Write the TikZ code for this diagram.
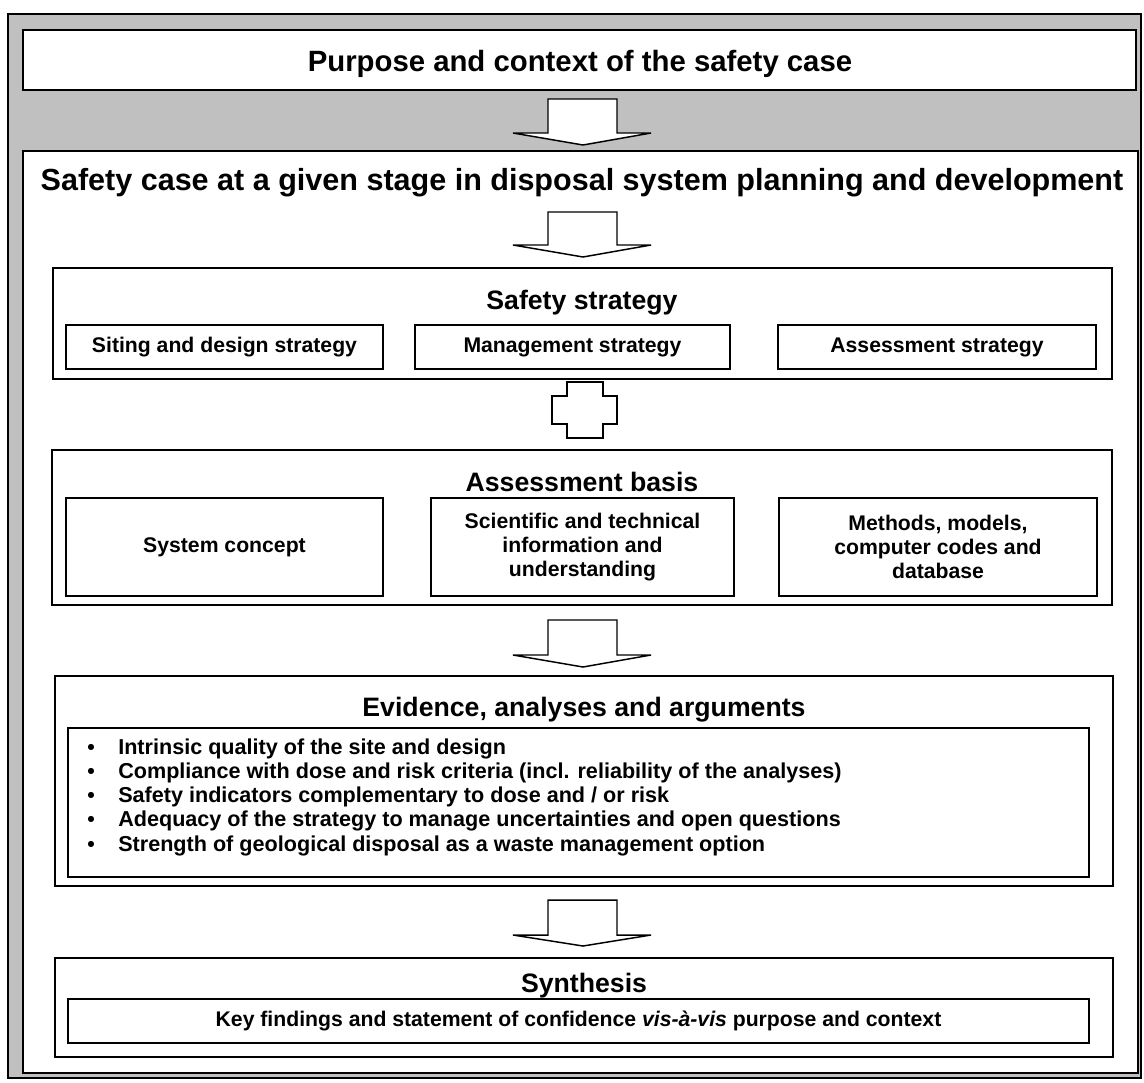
\documentclass[tikz,border=0pt]{standalone}
\usepackage{fontspec}
\setmainfont{Liberation Sans}
\usetikzlibrary{fit}
\definecolor{panel}{HTML}{C0C0C0}
\begin{document}
\begin{tikzpicture}[x=0.75pt,y=-0.75pt,
  frame/.style={draw=black, line width=1.2pt, fill=white, inner sep=0pt},
  heading/.style={font=\bfseries\fontsize{22}{27}\selectfont, anchor=base, inner sep=0pt},
  section/.style={font=\bfseries\fontsize{20}{24}\selectfont, anchor=base, inner sep=0pt},
  sublabel/.style={font=\bfseries\fontsize{15.9}{18.2}\selectfont, align=center, inner sep=0pt},
  itemtext/.style={font=\bfseries\fontsize{16.2}{18}\selectfont, anchor=base west, inner sep=0pt},
  bulletmark/.style={font=\bfseries\fontsize{16}{18}\selectfont, anchor=base, inner sep=0pt},
  blockarrow/.style={draw=black, line width=1.1pt, fill=white, line join=miter}]
\useasboundingbox (0,0) rectangle (1144,1082);
\fill[white] (0,0) rectangle (1144,1082);

% outer grey panel
\node[frame, fill=panel, fit={(8,14)(1141,1078)}] (panel) {};

% purpose and context
\node[frame, fit={(23,30)(1136,90)}] (purpose) {};
\node[heading] (purpose-t) at (580,71) {Purpose and context of the safety case};

% safety case frame
\node[frame, fit={(23,151)(1138,1073)}] (case) {};
\node[heading, font=\bfseries\fontsize{22.9}{27}\selectfont] (case-t) at (582,190) {Safety case at a given stage in disposal system planning and development};

% safety strategy
\node[frame, fit={(53,268)(1112,379)}] (strategy) {};
\node[section] (strategy-t) at (582,309) {Safety strategy};
\node[frame, fit={(66,325)(383,369)}] (siting) {};
\node[sublabel] (siting-t) at (siting.center) {Siting and design strategy};
\node[frame, fit={(415,325)(730,369)}] (mgmt) {};
\node[sublabel] (mgmt-t) at (mgmt.center) {Management strategy};
\node[frame, fit={(778,325)(1096,369)}] (assess) {};
\node[sublabel] (assess-t) at (assess.center) {Assessment strategy};

% assessment basis
\node[frame, fit={(52,450)(1112,605)}] (basis) {};
\node[section] (basis-t) at (582,491) {Assessment basis};
\node[frame, fit={(66,498)(383,596)}] (concept) {};
\node[sublabel] (concept-t) at (concept.center) {System concept};
\node[frame, fit={(431,498)(734,596)}] (science) {};
\node[sublabel] (science-t) at (science.center) {Scientific and technical\\information and\\understanding};
\node[frame, fit={(779,498)(1097,596)}] (methods) {};
\node[sublabel] (methods-t) at (methods.center) {Methods, models,\\computer codes and\\database};

% evidence, analyses and arguments
\node[frame, fit={(55,676)(1113,886)}] (evidence) {};
\node[section] (evidence-t) at (584,716) {Evidence, analyses and arguments};
\node[frame, fit={(68,728)(1089,877)}] (items) {};
\foreach \yy/\txt [count=\i] in {
  754.5/{Intrinsic quality of the site and design},
  778.5/{Compliance with dose and risk criteria (incl. reliability of the analyses)},
  802.5/{Safety indicators complementary to dose and / or risk},
  826.5/{Adequacy of the strategy to manage uncertainties and open questions},
  851/{Strength of geological disposal as a waste management option}} {
  \node[bulletmark] (dot\i) at (91,\yy) {•};
  \node[itemtext] (item\i) at (118,\yy) {\txt};
}

% synthesis
\node[frame, fit={(55,958)(1113,1057)}] (synthesis) {};
\node[section] (synthesis-t) at (584,992) {Synthesis};
\node[frame, fit={(68,999)(1089,1043)}] (findings) {};
\node[sublabel] (findings-t) at (findings.center) {Key findings and statement of confidence \textit{vis-à-vis} purpose and context};

% block arrows between the stages
\foreach \top/\sh/\tip in {99/133/145, 212/245/257, 620/655/667, 900/935/946} {
  \draw[blockarrow] (548,\top) -- (617,\top) -- (617,\sh) -- (651,\sh) -- (583,\tip)
    -- (513,\sh) -- (548,\sh) -- cycle;
}

% two-way link between strategy and assessment basis
\draw[blockarrow] (567,382) -- (603,382) -- (603,396) -- (617,396) -- (617,424)
  -- (603,424) -- (603,438) -- (567,438) -- (567,424) -- (552,424) -- (552,396)
  -- (567,396) -- cycle;
\end{tikzpicture}
\end{document}
